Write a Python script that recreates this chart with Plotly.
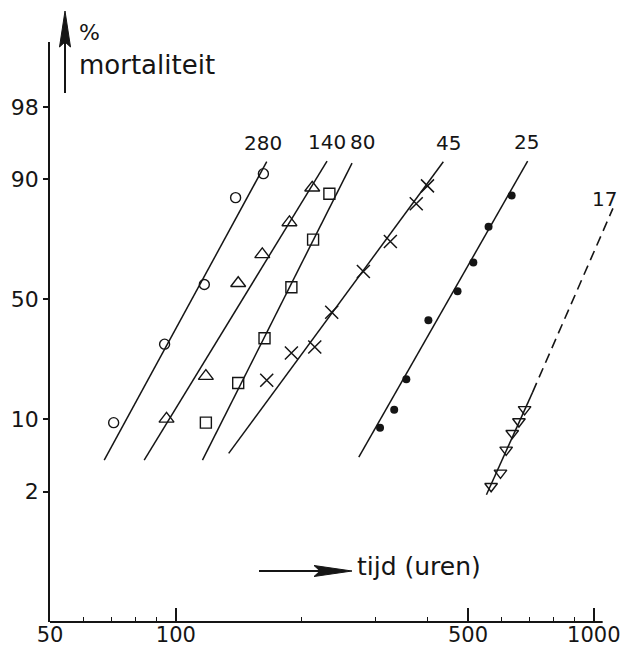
import math
from statistics import NormalDist
import plotly.graph_objects as go

# Observed mortality (%) against exposure time (hours) for each group
groups = ["280", "140", "80", "45", "25", "17"]

hours_280 = [71, 94, 117, 139, 162]
mort_280 = [9.4, 31.6, 56.3, 86.1, 91.0]
hours_140 = [95, 118, 141, 161, 187, 212]
mort_140 = [10.1, 20.6, 56.8, 68.4, 79.4, 88.3]
hours_80 = [118, 141, 163, 189, 213, 233]
mort_80 = [9.4, 18.6, 33.9, 55.1, 73.8, 87.0]
hours_45 = [165, 189, 215, 236, 281, 326, 376, 400]
mort_45 = [19.4, 28.3, 30.5, 44.5, 61.7, 73.1, 84.6, 88.7]
hours_25 = [308, 333, 356, 402, 472, 515, 560, 636]
mort_25 = [8.5, 11.9, 19.7, 41.2, 53.4, 65.3, 78.1, 86.6]
hours_17 = [568, 598, 617, 638, 662, 683]
mort_17 = [2.3, 3.2, 5.4, 7.65, 9.6, 12.0]

# Fitted probit lines (start and end points)
fit_hours_280 = [67.4, 165]
fit_mort_280 = [4.3, 92.9]
fit_hours_140 = [84.0, 230]
fit_mort_140 = [4.3, 93.0]
fit_hours_80 = [115.8, 264]
fit_mort_80 = [4.3, 92.7]
fit_hours_45 = [133.8, 436.5]
fit_mort_45 = [5.0, 92.9]
fit_hours_25 = [274, 694.5]
fit_mort_25 = [4.6, 93.0]
# group 17: measured part, then extrapolated part
fit_hours_17 = [553.5, 714, 1111]
fit_mort_17 = [1.85, 16.1, 83.4]

y_ticks = [2, 10, 50, 90, 98]
x_ticks = [50, 100, 500, 1000]
x_minor = [60, 70, 80, 90, 200, 300, 400, 600, 700, 800, 900]

INK = "#151515"
FONT = "DejaVu Sans"
nd = NormalDist()


def probit(pcts):
    return [nd.inv_cdf(p / 100.0) for p in pcts]


W, H = 637, 649
ML, MR, MT, MB = 50, 21, 42, 27
X_MIN, X_MAX = 50, 1130
Y_MIN, Y_MAX = -3.444, 2.746


def fx(px):
    return (px - ML) / (W - ML - MR)


def fy(py):
    return (H - MB - py) / (H - MT - MB)


fig = go.Figure()

series = [
    (hours_280, mort_280, fit_hours_280, fit_mort_280,
     dict(symbol="circle-open", size=10, color=INK, line=dict(width=1.4, color=INK))),
    (hours_140, mort_140, fit_hours_140, fit_mort_140,
     dict(symbol="triangle-up-open", size=13, color=INK, line=dict(width=1.4, color=INK))),
    (hours_80, mort_80, fit_hours_80, fit_mort_80,
     dict(symbol="square-open", size=11, color=INK, line=dict(width=1.4, color=INK))),
    (hours_45, mort_45, fit_hours_45, fit_mort_45,
     dict(symbol="x-thin-open", size=13, color=INK, line=dict(width=1.5, color=INK))),
    (hours_25, mort_25, fit_hours_25, fit_mort_25,
     dict(symbol="circle", size=8, color=INK, line=dict(width=0))),
    (hours_17, mort_17, fit_hours_17[:2], fit_mort_17[:2],
     dict(symbol="triangle-down-open", size=11, color=INK, line=dict(width=1.4, color=INK))),
]

for hx, my, fhx, fmy, mk in series:
    fig.add_trace(go.Scatter(x=fhx, y=probit(fmy), mode="lines",
                             line=dict(color=INK, width=1.5),
                             hoverinfo="skip", showlegend=False))
    fig.add_trace(go.Scatter(x=hx, y=probit(my), mode="markers",
                             marker=mk, showlegend=False))

# extrapolated part of group 17
fig.add_trace(go.Scatter(x=fit_hours_17[1:], y=probit(fit_mort_17[1:]), mode="lines",
                         line=dict(color=INK, width=1.6, dash="10px,6px"),
                         hoverinfo="skip", showlegend=False))

# group labels at the upper end of each fitted line
label_tops = [
    (fit_hours_280[-1], fit_mort_280[-1], -4, 5),
    (fit_hours_140[-1], fit_mort_140[-1], 0, 5),
    (fit_hours_80[-1], fit_mort_80[-1], 10, 7),
    (fit_hours_45[-1], fit_mort_45[-1], 5, 5),
    (fit_hours_25[-1], fit_mort_25[-1], -1, 5),
    (fit_hours_17[-1], fit_mort_17[-1], -8, -5),
]
annotations = []
for name, (hx, my, dx, dy) in zip(groups, label_tops):
    annotations.append(dict(x=math.log10(hx), y=nd.inv_cdf(my / 100.0),
                            xref="x", yref="y", text=name, showarrow=False,
                            xanchor="center", yanchor="bottom",
                            xshift=dx, yshift=dy,
                            font=dict(family=FONT, size=20, color=INK)))

# axis titles
annotations.append(dict(x=fx(77), y=fy(50), xref="paper", yref="paper",
                        text="<span style='font-size:22px'>%</span><br>mortaliteit",
                        showarrow=False, xanchor="left", yanchor="middle", align="left",
                        font=dict(family=FONT, size=26, color=INK)))
annotations.append(dict(x=fx(355), y=fy(566), xref="paper", yref="paper",
                        text="tijd (uren)", showarrow=False, xanchor="left",
                        yanchor="middle", font=dict(family=FONT, size=25, color=INK)))

# x axis line, arrows beside the axis titles
x_line_end = math.log10(1050 / X_MIN) / math.log10(X_MAX / X_MIN)
shapes = [
    dict(type="line", xref="paper", yref="paper", x0=0, x1=x_line_end, y0=0, y1=0,
         line=dict(color=INK, width=1.8)),
    dict(type="line", xref="paper", yref="paper", x0=fx(65), x1=fx(65),
         y0=fy(93), y1=fy(40), line=dict(color=INK, width=2)),
    dict(type="path", xref="paper", yref="paper",
         path=f"M {fx(65)},{fy(11)} L {fx(70.5)},{fy(47)} L {fx(65)},{fy(42)} "
              f"L {fx(59.5)},{fy(47)} Z",
         fillcolor=INK, line=dict(color=INK, width=1)),
    dict(type="line", xref="paper", yref="paper", x0=fx(259), x1=fx(322),
         y0=fy(571), y1=fy(571), line=dict(color=INK, width=2)),
    dict(type="path", xref="paper", yref="paper",
         path=f"M {fx(352)},{fy(571)} L {fx(314)},{fy(565.5)} L {fx(320)},{fy(571)} "
              f"L {fx(314)},{fy(576.5)} Z",
         fillcolor=INK, line=dict(color=INK, width=1)),
]

fig.update_layout(
    width=W, height=H,
    margin=dict(l=ML, r=MR, t=MT, b=MB, autoexpand=False),
    paper_bgcolor="white", plot_bgcolor="white",
    showlegend=False,
    annotations=annotations,
    shapes=shapes,
    font=dict(family=FONT, color=INK),
)

fig.update_xaxes(
    type="log", range=[math.log10(X_MIN), math.log10(X_MAX)],
    automargin=False,
    showgrid=False, zeroline=False, showline=False,
    tickvals=x_ticks, ticktext=[str(v) for v in x_ticks],
    ticks="inside", ticklen=14, tickwidth=1.6, tickcolor=INK,
    ticklabelstandoff=-2,
    minor=dict(tickvals=x_minor, ticks="inside", ticklen=5, tickwidth=1.4,
               tickcolor=INK, showgrid=False),
    tickfont=dict(family=FONT, size=21, color=INK),
)

fig.update_yaxes(
    range=[Y_MIN, Y_MAX],
    automargin=False,
    showgrid=False, zeroline=False,
    showline=True, linecolor=INK, linewidth=1.8,
    tickvals=probit(y_ticks), ticktext=[str(v) for v in y_ticks],
    ticks="outside", ticklen=5, tickwidth=1.6, tickcolor=INK,
    tickfont=dict(family=FONT, size=22, color=INK),
)

fig.write_html("out.html")
